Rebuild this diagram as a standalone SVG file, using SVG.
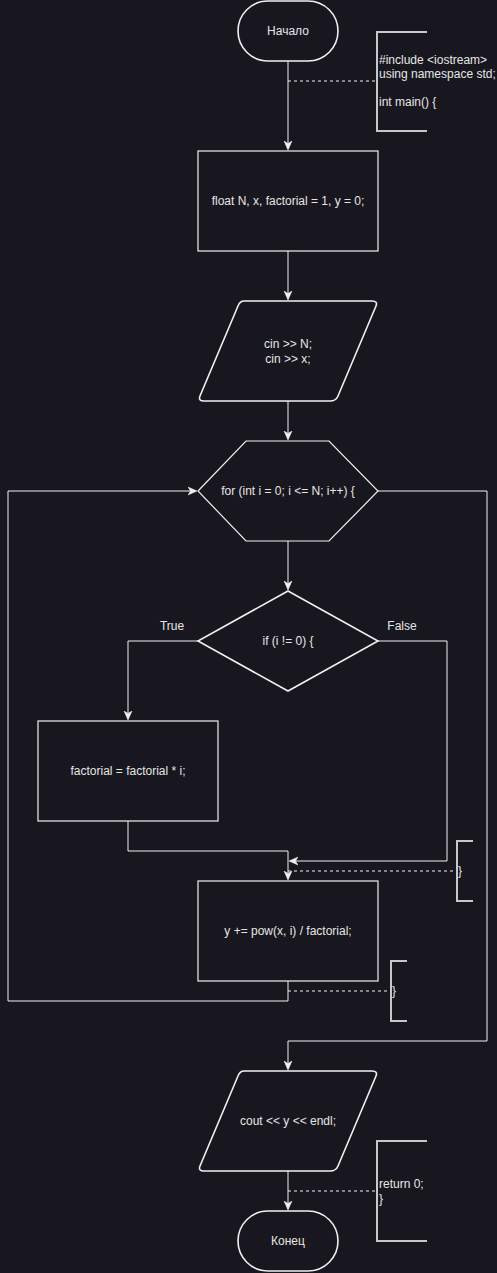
<svg xmlns="http://www.w3.org/2000/svg" width="497" height="1273" viewBox="0 0 497 1273">
<defs>
<marker id="arr" markerWidth="10" markerHeight="10" refX="8" refY="5" orient="auto" markerUnits="userSpaceOnUse">
<path d="M0,1 L9,5 L0,9 L2.5,5 Z" fill="#f0f0f0" stroke="#f0f0f0" stroke-width="0.5"/>
</marker>
</defs>
<style>
.bg{fill:#18161e}
.sh{fill:#18161e;stroke:#f0f0f0;stroke-width:1.2}
.shb{fill:#18161e;stroke:#f0f0f0;stroke-width:1.6}
.ln{fill:none;stroke:#f0f0f0;stroke-width:1}
.dash{fill:none;stroke:#f0f0f0;stroke-width:1;stroke-dasharray:3 3}
.br{fill:none;stroke:#c8c8c8;stroke-width:2}
text{font-family:"Liberation Sans",Arial,sans-serif;font-size:12px;fill:#e6e6e6}
.c{text-anchor:middle;dominant-baseline:central}
.l{text-anchor:start;dominant-baseline:central}
</style>
<rect class="bg" x="0" y="0" width="497" height="1273"/>
<g id="connectors">
<path class="ln" d="M288,61 V149" marker-end="url(#arr)"/>
<path class="ln" d="M288,251 V299" marker-end="url(#arr)"/>
<path class="ln" d="M288,401 V439" marker-end="url(#arr)"/>
<path class="ln" d="M288,541 V589" marker-end="url(#arr)"/>
<path class="ln" d="M198,641 H128 V719" marker-end="url(#arr)"/>
<path class="ln" d="M378,641 H447 V861 H290" marker-end="url(#arr)"/>
<path class="ln" d="M128,821 V851 H288 V879" marker-end="url(#arr)"/>
<path class="ln" d="M288,981 V1001 H8 V491 H196" marker-end="url(#arr)"/>
<path class="ln" d="M378,491 H487 V1041 H288 V1069" marker-end="url(#arr)"/>
<path class="ln" d="M288,1171 V1209" marker-end="url(#arr)"/>
<path class="dash" d="M288,81 H377"/>
<path class="dash" d="M288,871 H457"/>
<path class="dash" d="M288,991 H391"/>
<path class="dash" d="M288,1191 H377"/>
</g>
<g id="start">
<rect class="shb" x="238" y="1" width="100" height="60" rx="30" ry="30"/>
<text class="c" x="288" y="31">Начало</text>
</g>
<g id="note1">
<path class="br" d="M427,32 H377 V131 H427"/>
<text class="l" x="379" y="60">#include &lt;iostream&gt;</text>
<text class="l" x="379" y="74">using namespace std;</text>
<text class="l" x="379" y="102">int main() {</text>
</g>
<g id="decl">
<rect class="sh" x="198" y="151" width="180" height="100"/>
<text class="c" x="288" y="201">float N, x, factorial = 1, y = 0;</text>
</g>
<g id="input">
<path class="shb" d="M244,301 H372 Q378,301 376,306 L338,396 Q336,401 330,401 H204 Q198,401 200,396 L238,306 Q240,301 244,301 Z"/>
<text class="c" x="288" y="344">cin &gt;&gt; N;</text>
<text class="c" x="288" y="359">cin &gt;&gt; x;</text>
</g>
<g id="loop">
<path class="sh" d="M198,491 L246,441 H329 L378,491 L329,541 H246 Z"/>
<text class="c" x="288" y="491">for (int i = 0; i &lt;= N; i++) {</text>
</g>
<g id="cond">
<path class="shb" d="M288,591 L378,641 L288,691 L198,641 Z"/>
<text class="c" x="288" y="641">if (i != 0) {</text>
<text class="c" x="172" y="626">True</text>
<text class="c" x="402" y="626">False</text>
</g>
<g id="fact">
<rect class="sh" x="38" y="721" width="180" height="100"/>
<text class="c" x="128" y="771">factorial = factorial * i;</text>
</g>
<g id="note2">
<path class="br" d="M473,841 H457 V901 H473"/>
<text class="l" x="458" y="871">}</text>
</g>
<g id="sum">
<rect class="sh" x="198" y="881" width="180" height="100"/>
<text class="c" x="288" y="931">y += pow(x, i) / factorial;</text>
</g>
<g id="note3">
<path class="br" d="M407,961 H391 V1021 H407"/>
<text class="l" x="392" y="991">}</text>
</g>
<g id="output">
<path class="shb" d="M244,1071 H372 Q378,1071 376,1076 L338,1166 Q336,1171 330,1171 H204 Q198,1171 200,1166 L238,1076 Q240,1071 244,1071 Z"/>
<text class="c" x="288" y="1121">cout &lt;&lt; y &lt;&lt; endl;</text>
</g>
<g id="note4">
<path class="br" d="M427,1141 H377 V1241 H427"/>
<text class="l" x="379" y="1184">return 0;</text>
<text class="l" x="379" y="1199">}</text>
</g>
<g id="end">
<rect class="shb" x="238" y="1211" width="100" height="60" rx="30" ry="30"/>
<text class="c" x="288" y="1241">Конец</text>
</g>
</svg>
